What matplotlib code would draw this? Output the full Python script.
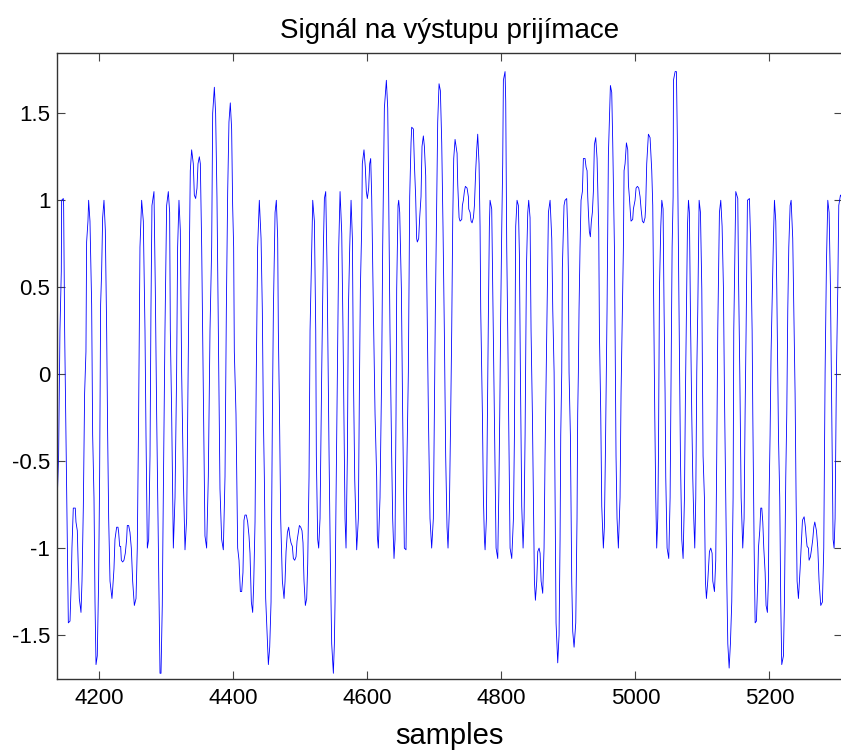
import matplotlib
matplotlib.use("Agg")
import matplotlib.pyplot as plt

# receiver output signal, vertices
samples = [
    4137.3, 4139.3, 4141.3, 4143.3, 4143.8, 4146.3, 4146.8, 4148.3, 4150.3, 4152.3,
    4153.8, 4156.3, 4158.2, 4159.2, 4161.2, 4164.2, 4165.2, 4167.2, 4168.7, 4170.2,
    4172.7, 4174.2, 4176.2, 4178.1, 4180.1, 4181.1, 4183.1, 4184.1, 4186.1, 4188.6,
    4190.1, 4192.1, 4193.6, 4195.1, 4197.0, 4199.0, 4200.5, 4202.0, 4203.5, 4205.0,
    4207.0, 4209.0, 4211.0, 4212.5, 4214.0, 4216.0, 4218.9, 4219.9, 4221.9, 4223.4,
    4225.9, 4227.9, 4228.9, 4230.4, 4231.9, 4232.9, 4234.9, 4236.8, 4238.8, 4240.8,
    4241.8, 4243.8, 4245.8, 4247.8, 4249.8, 4252.3, 4254.8, 4256.7, 4258.7, 4260.7,
    4263.2, 4265.7, 4268.2, 4269.7, 4271.7, 4273.7, 4275.7, 4277.1, 4278.6, 4281.6,
    4283.6, 4285.6, 4289.1, 4290.6, 4292.1, 4294.0, 4295.5, 4298.0, 4300.5, 4303.0,
    4305.0, 4306.0, 4308.0, 4310.5, 4313.0, 4315.4, 4316.9, 4318.9, 4320.9, 4322.9,
    4325.4, 4327.9, 4330.4, 4331.9, 4333.8, 4335.8, 4337.8, 4340.3, 4341.8, 4343.8,
    4345.8, 4347.3, 4349.3, 4350.8, 4352.8, 4355.2, 4357.7, 4360.2, 4362.7, 4365.2,
    4367.7, 4369.2, 4371.7, 4373.6, 4375.6, 4377.6, 4380.1, 4382.6, 4385.1, 4387.6,
    4389.6, 4391.6, 4393.5, 4395.5, 4397.5, 4399.0, 4400.5, 4401.5, 4404.0, 4406.5,
    4408.5, 4410.5, 4412.5, 4414.4, 4415.9, 4417.4, 4419.4, 4421.4, 4423.4, 4424.9,
    4426.9, 4428.9, 4430.4, 4432.4, 4434.3, 4436.3, 4438.8, 4441.4, 4443.3, 4444.8,
    4446.3, 4448.3, 4450.3, 4452.3, 4454.3, 4456.3, 4458.3, 4459.8, 4462.3, 4464.2,
    4466.2, 4467.2, 4468.7, 4470.7, 4473.2, 4475.7, 4477.2, 4478.7, 4480.7, 4482.6,
    4484.6, 4486.1, 4488.1, 4489.6, 4491.6, 4493.6, 4495.1, 4497.1, 4498.6, 4500.6,
    4502.5, 4504.0, 4505.5, 4507.5, 4509.5, 4511.0, 4513.0, 4514.5, 4517.0, 4518.5,
    4521.0, 4523.0, 4523.9, 4525.9, 4527.4, 4529.4, 4531.9, 4534.4, 4535.9, 4537.9,
    4539.9, 4542.9, 4544.8, 4546.8, 4549.3, 4550.8, 4551.8, 4553.3, 4555.3, 4557.3,
    4559.3, 4561.8, 4563.7, 4565.7, 4566.7, 4568.2, 4570.2, 4571.7, 4573.7, 4575.7,
    4577.7, 4579.2, 4581.2, 4584.1, 4586.6, 4588.1, 4589.6, 4591.6, 4592.5, 4595.0,
    4597.0, 4598.5, 4600.0, 4602.0, 4603.5, 4605.0, 4606.5, 4609.0, 4611.5, 4613.9,
    4614.9, 4616.4, 4618.9, 4621.4, 4622.9, 4625.4, 4628.4, 4630.4, 4631.4, 4633.8,
    4636.3, 4637.8, 4639.8, 4641.3, 4642.8, 4643.8, 4645.8, 4646.8, 4648.3, 4650.8,
    4652.7, 4655.2, 4657.7, 4659.2, 4661.2, 4663.2, 4665.2, 4666.2, 4668.7, 4670.2,
    4672.1, 4673.6, 4674.6, 4676.6, 4678.1, 4680.1, 4681.6, 4683.6, 4685.1, 4687.1,
    4688.1, 4689.6, 4691.1, 4693.5, 4696.0, 4698.5, 4700.0, 4701.5, 4703.0, 4705.0,
    4707.0, 4709.0, 4711.0, 4712.9, 4714.9, 4716.9, 4718.9, 4720.4, 4722.4, 4724.4,
    4725.9, 4727.4, 4728.9, 4730.9, 4733.9, 4734.9, 4736.9, 4738.4, 4740.9, 4741.8,
    4743.3, 4744.8, 4746.3, 4748.8, 4750.8, 4751.3, 4753.3, 4754.8, 4756.3, 4758.3,
    4759.8, 4761.7, 4763.2, 4764.7, 4766.7, 4768.2, 4769.2, 4771.7, 4773.2, 4774.7,
    4775.7, 4777.7, 4779.2, 4780.7, 4782.1, 4783.1, 4785.6, 4787.1, 4789.1, 4790.6,
    4792.1, 4794.6, 4796.1, 4797.6, 4799.1, 4800.6, 4802.0, 4803.0, 4805.5, 4806.5,
    4808.0, 4809.5, 4811.5, 4813.0, 4815.5, 4818.0, 4819.5, 4820.5, 4821.4, 4823.4,
    4825.4, 4826.9, 4828.4, 4830.4, 4832.4, 4833.9, 4835.4, 4837.4, 4839.4, 4840.8,
    4842.8, 4844.3, 4846.3, 4847.8, 4849.3, 4850.8, 4852.8, 4854.3, 4856.3, 4857.8,
    4859.3, 4861.7, 4863.7, 4865.2, 4867.7, 4870.2, 4872.7, 4875.2, 4876.7, 4878.7,
    4880.2, 4881.6, 4884.1, 4886.1, 4887.6, 4888.6, 4890.1, 4891.0, 4893.5, 4895.0,
    4897.5, 4899.0, 4900.0, 4901.0, 4903.0, 4905.0, 4906.5, 4908.5, 4911.0, 4912.9,
    4913.9, 4914.9, 4915.9, 4917.4, 4918.9, 4920.9, 4922.4, 4924.9, 4926.4, 4927.9,
    4928.9, 4929.9, 4931.3, 4932.8, 4934.3, 4935.8, 4937.3, 4938.8, 4940.8, 4942.8,
    4943.8, 4945.3, 4946.3, 4948.3, 4949.8, 4952.2, 4953.7, 4955.2, 4956.7, 4957.7,
    4959.7, 4962.7, 4964.7, 4966.2, 4968.7, 4969.7, 4971.1, 4972.6, 4974.6, 4977.1,
    4978.6, 4980.6, 4982.1, 4983.1, 4984.6, 4986.6, 4988.6, 4989.6, 4991.0, 4992.5,
    4993.5, 4996.0, 4997.0, 4999.5, 5001.0, 5003.0, 5005.0, 5007.0, 5008.5, 5010.4,
    5012.4, 5014.4, 5015.4, 5016.9, 5019.4, 5021.9, 5024.4, 5025.9, 5027.4, 5028.9,
    5030.4, 5031.8, 5033.4, 5034.4, 5035.9, 5037.9, 5039.4, 5041.3, 5042.8, 5044.3,
    5045.3, 5047.3, 5049.8, 5051.8, 5053.3, 5054.8, 5056.3, 5056.8, 5059.3, 5061.2,
    5062.7, 5064.2, 5065.7, 5067.2, 5069.2, 5071.2, 5073.2, 5074.7, 5076.2, 5077.7,
    5079.2, 5080.6, 5082.1, 5084.1, 5085.6, 5087.1, 5088.6, 5090.1, 5091.6, 5093.1,
    5095.1, 5097.1, 5099.1, 5101.0, 5103.0, 5104.5, 5106.0, 5108.0, 5110.5, 5112.5,
    5114.5, 5115.5, 5118.0, 5119.9, 5121.4, 5122.9, 5125.4, 5127.4, 5129.4, 5131.4,
    5132.9, 5134.9, 5136.4, 5137.9, 5139.9, 5141.8, 5143.8, 5145.8, 5146.8, 5148.8,
    5149.8, 5152.8, 5153.8, 5155.8, 5157.8, 5160.2, 5162.2, 5163.7, 5165.2, 5167.2,
    5170.2, 5172.2, 5174.2, 5175.2, 5177.2, 5178.7, 5180.6, 5182.6, 5183.6, 5185.6,
    5187.1, 5188.6, 5190.1, 5191.6, 5193.6, 5195.0, 5197.0, 5198.5, 5199.5, 5201.0,
    5202.5, 5204.5, 5206.0, 5207.5, 5209.5, 5211.0, 5213.5, 5215.4, 5216.9, 5218.4,
    5220.9, 5222.4, 5224.4, 5225.9, 5227.4, 5228.9, 5230.9, 5232.4, 5234.8, 5236.8,
    5238.3, 5239.8, 5241.3, 5243.3, 5245.8, 5247.3, 5249.3, 5251.8, 5253.7, 5254.7,
    5256.2, 5258.2, 5259.2, 5261.2, 5262.7, 5264.7, 5266.2, 5267.7, 5270.2, 5272.2,
    5274.1, 5276.6, 5279.1, 5281.1, 5283.1, 5285.1, 5287.1, 5289.1, 5291.1, 5293.1,
    5295.0, 5296.5, 5298.0, 5300.0, 5302.0, 5303.5, 5306.0, 5307.5,
]
signal = [
    -0.71, -0.47, 0.25, 0.59, 1.00, 1.01, 0.97, 0.25, -0.35, -0.95,
    -1.43, -1.42, -1.19, -1.00, -0.77, -0.77, -0.85, -0.90, -1.12, -1.29,
    -1.37, -1.19, -0.76, -0.11, 0.13, 0.76, 0.88, 1.00, 0.88, 0.40,
    -0.35, -0.71, -1.31, -1.67, -1.62, -1.19, -0.59, 0.40, 0.59, 0.90,
    1.00, 0.83, 0.25, -0.35, -0.83, -1.19, -1.29, -1.24, -1.12, -0.95,
    -0.88, -0.88, -0.91, -0.99, -0.99, -1.07, -1.08, -1.07, -1.03, -0.95,
    -0.87, -0.87, -0.91, -1.00, -1.19, -1.33, -1.29, -1.00, -0.23, 0.73,
    1.00, 0.88, 0.25, -0.35, -1.00, -0.95, -0.47, 0.37, 0.97, 1.05,
    0.49, -0.23, -1.26, -1.72, -1.72, -1.33, -0.71, 0.25, 0.97, 1.05,
    0.93, 0.25, -0.23, -1.00, -0.71, 0.01, 0.73, 1.00, 0.83, 0.01,
    -0.59, -1.01, -0.83, -0.23, 0.49, 1.17, 1.29, 1.21, 1.03, 1.01,
    1.07, 1.21, 1.25, 1.21, 0.73, -0.11, -0.93, -1.00, -0.59, 0.25,
    0.73, 1.50, 1.65, 1.50, 1.02, 0.25, -0.66, -0.95, -1.01, -0.59,
    0.37, 1.05, 1.45, 1.56, 1.41, 0.97, 0.73, 0.13, -0.23, -1.00,
    -1.07, -1.25, -1.25, -1.14, -0.84, -0.81, -0.81, -0.85, -0.93, -1.03,
    -1.31, -1.37, -1.21, -0.85, 0.01, 0.73, 1.00, 0.78, 0.37, -0.23,
    -0.59, -1.29, -1.48, -1.67, -1.57, -1.31, -0.23, 0.37, 0.93, 1.00,
    0.78, 0.25, -0.16, -0.83, -1.19, -1.29, -1.19, -1.02, -0.91, -0.88,
    -0.94, -0.97, -0.99, -1.06, -1.07, -1.05, -0.96, -0.91, -0.87, -0.88,
    -0.90, -0.97, -1.19, -1.33, -1.29, -1.09, -0.59, 0.25, 0.73, 1.00,
    0.88, 0.25, -0.47, -0.95, -1.00, -0.83, 0.01, 0.73, 1.01, 1.05,
    0.61, -0.47, -1.07, -1.55, -1.72, -1.55, -1.31, -0.71, 0.01, 0.73,
    1.05, 0.81, 0.25, -0.47, -0.83, -1.00, -0.47, 0.37, 0.73, 1.00,
    0.78, 0.01, -0.61, -1.01, -0.83, -0.11, 0.49, 0.85, 1.21, 1.29,
    1.19, 1.05, 1.01, 1.07, 1.21, 1.24, 1.02, 0.37, -0.23, -0.59,
    -0.93, -1.00, -0.71, 0.01, 0.73, 1.53, 1.69, 1.53, 1.21, 0.25,
    -0.47, -0.83, -1.06, -0.95, -0.23, 0.49, 0.97, 1.00, 0.93, 0.49,
    -0.23, -1.00, -1.01, -0.47, 0.01, 1.02, 1.33, 1.42, 1.41, 1.21,
    1.02, 0.78, 0.76, 0.78, 0.90, 1.02, 1.31, 1.37, 1.31, 1.14,
    0.73, 0.25, -0.23, -0.83, -1.00, -0.83, -0.23, 0.37, 0.85, 1.45,
    1.67, 1.63, 1.33, 0.85, 0.25, -0.47, -0.88, -1.00, -0.78, -0.23,
    0.25, 0.88, 1.24, 1.35, 1.27, 1.09, 0.90, 0.88, 0.89, 0.97,
    1.00, 1.05, 1.08, 1.07, 1.02, 0.95, 0.93, 0.88, 0.87, 0.90,
    0.97, 1.17, 1.29, 1.38, 1.21, 0.85, 0.37, -0.23, -0.71, -0.95,
    -1.01, -0.83, -0.23, 0.37, 0.85, 1.00, 0.95, 0.49, -0.11, -0.59,
    -1.00, -1.06, -0.71, -0.23, 0.37, 0.85, 1.21, 1.69, 1.74, 1.57,
    0.73, 0.25, -0.47, -1.00, -1.06, -0.83, -0.35, 0.25, 0.85, 1.00,
    0.97, 0.69, 0.01, -0.76, -1.00, -0.83, -0.35, 0.61, 0.93, 1.00,
    0.90, 0.25, -0.23, -0.71, -1.19, -1.30, -1.19, -1.02, -1.00, -1.03,
    -1.19, -1.26, -1.00, -0.47, 0.25, 0.93, 1.00, 0.78, 0.37, 0.01,
    -0.71, -1.43, -1.66, -1.50, -0.95, -0.35, 0.01, 0.61, 0.97, 1.00,
    1.01, 0.83, 0.59, 0.01, -0.35, -1.19, -1.48, -1.57, -1.43, -0.83,
    -0.23, 0.01, 0.37, 0.73, 1.00, 1.05, 1.24, 1.24, 1.19, 1.17,
    1.02, 0.93, 0.82, 0.79, 0.88, 0.93, 1.05, 1.32, 1.36, 1.24,
    1.07, 0.83, 0.25, -0.23, -0.76, -1.00, -0.88, -0.47, 0.01, 0.37,
    1.26, 1.66, 1.62, 1.33, 0.73, 0.25, -0.47, -0.83, -1.00, -0.71,
    -0.11, 0.37, 0.73, 1.17, 1.21, 1.33, 1.29, 1.09, 1.02, 0.93,
    0.88, 0.89, 0.95, 1.00, 1.07, 1.08, 1.07, 1.02, 0.95, 0.88,
    0.87, 0.90, 0.97, 1.21, 1.38, 1.36, 1.17, 0.97, 0.37, -0.23,
    -0.71, -1.00, -0.83, -0.47, 0.49, 0.85, 1.00, 0.95, 0.37, -0.11,
    -0.59, -1.00, -1.06, -0.71, 0.01, 0.73, 1.02, 1.69, 1.74, 1.74,
    1.33, 0.73, 0.13, -0.47, -0.95, -1.06, -0.71, -0.11, 0.37, 0.85,
    1.00, 0.93, 0.37, -0.23, -0.59, -0.83, -1.00, -0.71, 0.01, 0.37,
    1.00, 0.93, 0.49, -0.47, -0.71, -1.19, -1.29, -1.19, -1.02, -1.00,
    -1.03, -1.19, -1.25, -1.07, -0.47, 0.25, 0.93, 1.00, 0.85, 0.49,
    -0.11, -0.71, -1.19, -1.55, -1.69, -1.55, -1.31, -0.71, 0.25, 0.78,
    1.05, 1.01, 0.59, 0.01, -0.71, -1.00, -0.83, -0.23, 0.25, 1.00,
    1.01, 0.73, 0.25, -0.23, -1.00, -1.43, -1.42, -1.19, -1.00, -0.90,
    -0.77, -0.77, -0.85, -1.00, -1.14, -1.33, -1.37, -1.19, -0.71, -0.35,
    0.13, 0.49, 0.78, 1.00, 0.88, 0.49, -0.35, -0.71, -1.31, -1.67,
    -1.62, -1.31, -0.59, -0.23, 0.37, 0.73, 0.97, 1.00, 0.78, 0.25,
    -0.11, -0.71, -1.19, -1.29, -1.12, -1.00, -0.84, -0.82, -0.88, -0.93,
    -0.99, -1.00, -1.07, -1.05, -1.01, -0.95, -0.88, -0.85, -0.90, -1.00,
    -1.19, -1.33, -1.31, -1.00, 0.01, 0.64, 1.00, 0.93, 0.49, -0.23,
    -0.95, -1.00, -0.83, 0.01, 0.49, 0.97, 1.03, 1.02,
]

x_ticks = [4200, 4400, 4600, 4800, 5000, 5200]
y_ticks = [-1.5, -1, -0.5, 0, 0.5, 1, 1.5]
y_tick_labels = ["-1.5", "-1", "-0.5", "0", "0.5", "1", "1.5"]

plt.rcParams["font.family"] = ["Liberation Sans", "DejaVu Sans"]

fig = plt.figure(figsize=(8.41, 7.52), dpi=100)
ax = fig.add_axes([0.0681, 0.0975, 0.933, 0.8316])

ax.plot(samples, signal, color="#0000ff", linewidth=0.6)

ax.set_xlim(4137.3, 5308.2)
ax.set_ylim(-1.751, 1.845)
ax.set_xticks(x_ticks)
ax.set_yticks(y_ticks)
ax.set_yticklabels(y_tick_labels)

ax.tick_params(direction="in", length=6, width=0.8, color="#444444",
               labelsize=16, top=True, right=True)
ax.tick_params(axis="x", pad=7)
ax.tick_params(axis="y", pad=5)
for sp in ax.spines.values():
    sp.set_color("#333333")
    sp.set_linewidth(1.0)

ax.set_title("Signál na výstupu prijímace", fontsize=20, pad=11)
ax.set_xlabel("samples", fontsize=21, labelpad=9)

fig.savefig("out.png", dpi=100, facecolor="white")
